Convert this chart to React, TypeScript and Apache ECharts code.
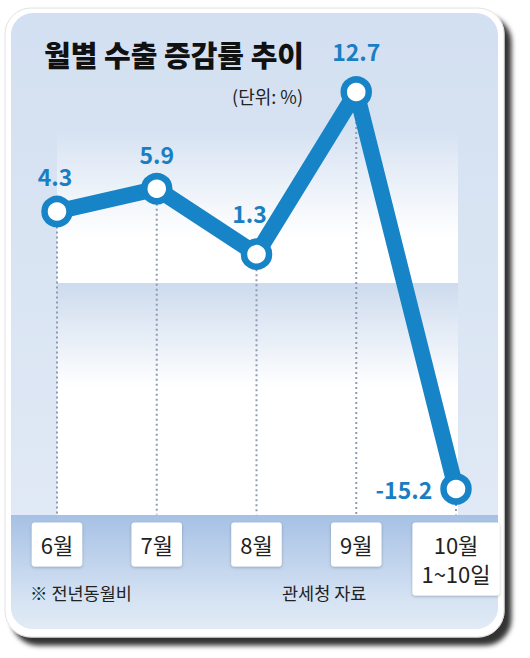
import React, { useEffect, useRef } from "react";
import * as echarts from "echarts";

const categories = ["6월", "7월", "8월", "9월", "10월\n1~10일"];
const values = [4.3, 5.9, 1.3, 12.7, -15.2];
const titleText = "월별 수출 증감률 추이";
const unitText = "(단위: %)";
const noteText = "※ 전년동월비";
const sourceText = "관세청 자료";

const FONT = "'Noto Sans CJK KR', 'Noto Sans', sans-serif";
const LINE_BLUE = "#1784c7";
const LABEL_BLUE = "#1a7ec2";

export default function App() {
  const ref = useRef<HTMLDivElement>(null);
  useEffect(() => {
    if (!ref.current) return;
    const chart = echarts.init(ref.current, undefined, { renderer: "svg" });
    const labelTweaks = [
      { position: "top", distance: 8, offset: [-2, 0] },
      { position: "top", distance: 8, offset: [0, 0] },
      { position: "top", distance: 14, offset: [-7, 0] },
      { position: "top", distance: 14, offset: [0, 0] },
      { position: "left", distance: 8, offset: [0, 0] },
    ];
    const option: any = {
      animation: false,
      grid: { left: 57, right: 74, top: 73.5, bottom: 143.4, containLabel: false },
      xAxis: {
        type: "category",
        data: categories,
        boundaryGap: false,
        axisLine: { show: false },
        axisTick: { show: false },
        splitLine: { show: false },
        axisLabel: {
          margin: 8,
          interval: 0,
          color: "#222",
          fontFamily: FONT,
          fontSize: 22,
          lineHeight: 29,
          backgroundColor: "#ffffff",
          borderRadius: 3,
          padding: [7, 9, 8, 9],
          shadowBlur: 3,
          shadowOffsetY: 1,
          shadowColor: "rgba(0,0,0,0.25)",
          align: "center",
        },
      },
      yAxis: {
        type: "value",
        min: -17,
        max: 14,
        show: false,
        splitLine: { show: false },
      },
      series: [
        {
          type: "custom",
          z: 1,
          silent: true,
          data: values.map((v, i) => [i, v]),
          renderItem: (params: any, api: any) => {
            const i = api.value(0);
            const v = api.value(1);
            const p1 = api.coord([i, v]);
            const p2 = api.coord([i, -17]);
            return {
              type: "line",
              shape: { x1: p1[0], y1: p1[1], x2: p2[0], y2: p2[1] },
              style: { stroke: "#8f9cb0", lineWidth: 2, lineDash: [2, 3] },
            };
          },
        },
        {
          type: "line",
          z: 3,
          data: values.map((v, i) => ({
            value: v,
            label: labelTweaks[i],
          })),
          lineStyle: { color: LINE_BLUE, width: 16, cap: "round", join: "round" },
          symbol: "circle",
          symbolSize: 25,
          showAllSymbol: true,
          itemStyle: { color: "#ffffff", borderColor: LINE_BLUE, borderWidth: 6.5 },
          label: {
            show: true,
            color: LABEL_BLUE,
            fontFamily: FONT,
            fontWeight: "bold",
            fontSize: 23,
            formatter: (p: any) => String(p.value),
          },
        },
      ],
      graphic: [
        {
          type: "rect",
          z: -30,
          silent: true,
          shape: { x: 5, y: 8, width: 499, height: 629, r: 26 },
          style: {
            fill: "#ffffff",
            stroke: "#e2e2e2",
            lineWidth: 1,
            shadowBlur: 5,
            shadowOffsetX: 7,
            shadowOffsetY: 8,
            shadowColor: "rgba(0,0,0,0.8)",
          },
        },
        {
          type: "rect",
          z: -29,
          silent: true,
          shape: { x: 11, y: 13, width: 487, height: 616, r: 22 },
          style: {
            fill: new echarts.graphic.LinearGradient(0, 0, 0, 1, [
              { offset: 0, color: "#d3e0f1" },
              { offset: 1, color: "#e3ebf6" },
            ]),
          },
        },
        {
          type: "rect",
          z: -28,
          silent: true,
          shape: { x: 57, y: 130, width: 401, height: 153 },
          style: {
            fill: new echarts.graphic.LinearGradient(0, 0, 0, 1, [
              { offset: 0, color: "rgba(255,255,255,0)" },
              { offset: 0.7, color: "rgba(255,255,255,1)" },
              { offset: 1, color: "rgba(255,255,255,1)" },
            ]),
          },
        },
        {
          type: "rect",
          z: -28,
          silent: true,
          shape: { x: 57, y: 283, width: 401, height: 232 },
          style: {
            fill: new echarts.graphic.LinearGradient(0, 0, 0, 1, [
              { offset: 0, color: "#cddbee" },
              { offset: 0.45, color: "#ffffff" },
              { offset: 1, color: "#ffffff" },
            ]),
          },
        },
        {
          type: "rect",
          z: -27,
          silent: true,
          shape: { x: 11, y: 515, width: 487, height: 114, r: [0, 0, 22, 22] },
          style: {
            fill: new echarts.graphic.LinearGradient(0, 0, 0, 1, [
              { offset: 0, color: "#a6c1e5" },
              { offset: 0.75, color: "#d6e3f3" },
              { offset: 1, color: "#e2ebf6" },
            ]),
          },
        },
        {
          type: "text",
          z: 10,
          x: 44,
          y: 54,
          style: {
            text: titleText,
            fill: "#111111",
            font: `900 29px ${FONT}`,
            verticalAlign: "middle",
            align: "left",
          },
        },
        {
          type: "text",
          z: 10,
          x: 303,
          y: 96,
          style: {
            text: unitText,
            fill: "#222222",
            font: `18px ${FONT}`,
            verticalAlign: "middle",
            align: "right",
          },
        },
        {
          type: "text",
          z: 10,
          x: 30,
          y: 592,
          style: {
            text: noteText,
            fill: "#222222",
            font: `17.5px ${FONT}`,
            verticalAlign: "middle",
            align: "left",
          },
        },
        {
          type: "text",
          z: 10,
          x: 282,
          y: 592,
          style: {
            text: sourceText,
            fill: "#222222",
            font: `17.5px ${FONT}`,
            verticalAlign: "middle",
            align: "left",
          },
        },
      ],
    };
    chart.setOption(option);
    return () => chart.dispose();
  }, []);
  return (
    <div
      ref={ref}
      style={{ position: "absolute", left: 0, top: 0, width: 530, height: 658, background: "#ffffff" }}
    />
  );
}
